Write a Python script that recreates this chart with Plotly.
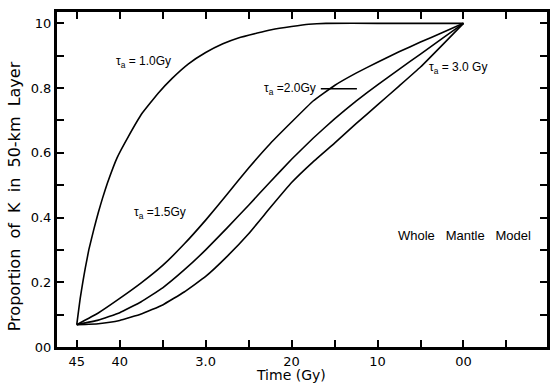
import plotly.graph_objects as go

# Time (Gy before present) and proportion of K in 50-km layer
t_10 = [4.5, 4.48, 4.46, 4.43, 4.40, 4.36, 4.30, 4.25, 4.20, 4.145, 4.03, 3.90, 3.74, 3.55,
        3.39, 3.20, 3.0, 2.8, 2.62, 2.4, 2.235, 2.0, 1.8, 1.6, 1.0, 0.5, 0.0]
k_10 = [0.069, 0.11, 0.15, 0.20, 0.245, 0.30, 0.365, 0.415, 0.46, 0.505, 0.585, 0.65, 0.722, 0.785,
        0.83, 0.875, 0.91, 0.937, 0.955, 0.97, 0.98, 0.99, 0.997, 1.0, 1.0, 1.0, 1.0]

t_std = [4.5, 4.25, 4.0, 3.75, 3.5, 3.25, 3.0, 2.75, 2.5, 2.25, 2.0, 1.75, 1.5, 1.25, 1.0, 0.75, 0.5, 0.25, 0.0]
k_15 = [0.069, 0.105, 0.150, 0.198, 0.252, 0.318, 0.392, 0.472, 0.553, 0.628, 0.695, 0.760, 0.808,
        0.846, 0.880, 0.912, 0.942, 0.971, 1.0]
k_20 = [0.069, 0.083, 0.106, 0.140, 0.183, 0.238, 0.300, 0.368, 0.438, 0.510, 0.580, 0.645, 0.705,
        0.760, 0.810, 0.858, 0.905, 0.953, 1.0]
k_30 = [0.069, 0.072, 0.082, 0.102, 0.130, 0.170, 0.218, 0.280, 0.350, 0.430, 0.508, 0.572, 0.630,
        0.690, 0.748, 0.806, 0.865, 0.932, 1.0]

x_tickvals = [4.5, 4.0, 3.5, 3.0, 2.5, 2.0, 1.5, 1.0, 0.5, 0.0, -0.5]
x_ticktext = ["45", "40", "", "3.0", "", "20", "", "10", "", "00", ""]
y_tickvals = [0.0, 0.1, 0.2, 0.3, 0.4, 0.5, 0.6, 0.7, 0.8, 0.9, 1.0]
y_ticktext = ["00", "", "0.2", "", "0.4", "", "0.6", "", "0.8", "", "10"]

font_family = "DejaVu Sans, Liberation Sans, sans-serif"
lab_family = "Liberation Sans, Arial, sans-serif"

W, H = 553, 384
M = dict(l=57, r=3, t=12, b=37)
X_RANGE = [4.73, -0.972]
Y_RANGE = [0.0, 1.035]

fig = go.Figure()
for tt, kk in [(t_10, k_10), (t_std, k_15), (t_std, k_20), (t_std, k_30)]:
    fig.add_trace(go.Scatter(x=tt, y=kk, mode="lines",
                             line=dict(color="black", width=1.6, shape="spline", smoothing=0.3),
                             showlegend=False, hoverinfo="skip"))

axis_common = dict(tickmode="array", ticks="inside", ticklen=7, tickwidth=2, tickcolor="black",
                   showline=True, linewidth=3, linecolor="black", mirror="ticks",
                   showgrid=False, zeroline=False,
                   tickfont=dict(family=font_family, size=13, color="black"))

fig.update_layout(
    width=W, height=H, margin=M,
    paper_bgcolor="white", plot_bgcolor="white",
    font=dict(family=font_family, size=12, color="black"),
    xaxis=dict(range=X_RANGE, tickvals=x_tickvals, ticktext=x_ticktext, **axis_common),
    yaxis=dict(range=Y_RANGE, tickvals=y_tickvals, ticktext=y_ticktext, **axis_common),
)

ann_font = dict(family=lab_family, size=12, color="black")
fig.add_annotation(x=3.72, y=0.881, text="τ<sub>a</sub> = 1.0Gy", showarrow=False, font=ann_font)
fig.add_annotation(x=2.02, y=0.798, text="τ<sub>a</sub> =2.0Gy", showarrow=False, font=ann_font)
fig.add_annotation(x=0.067, y=0.863, text="τ<sub>a</sub> = 3.0 Gy", showarrow=False, font=ann_font)
fig.add_annotation(x=3.53, y=0.415, text="τ<sub>a</sub> =1.5Gy", showarrow=False, font=ann_font)
fig.add_shape(type="line", x0=1.66, x1=1.24, y0=0.798, y1=0.798,
              line=dict(color="black", width=1.5))
fig.add_annotation(x=-0.01, y=0.345, text="Whole&nbsp;&nbsp; Mantle&nbsp;&nbsp; Model", showarrow=False,
                   font=dict(family=lab_family, size=13, color="black"))

fig.add_annotation(x=2.01, xref="x", y=0, yref="paper", yanchor="middle", yshift=-28,
                   text="Time (Gy)", showarrow=False,
                   font=dict(family=font_family, size=14, color="black"))
fig.add_annotation(x=0, xref="paper", xanchor="center", xshift=-43, y=0.45, yref="paper",
                   yanchor="middle",
                   text="Proportion&nbsp; of&nbsp; K&nbsp; in&nbsp; 50-km&nbsp; Layer", textangle=-90,
                   showarrow=False, font=dict(family=font_family, size=16, color="black"))

fig.write_html("out.html")
